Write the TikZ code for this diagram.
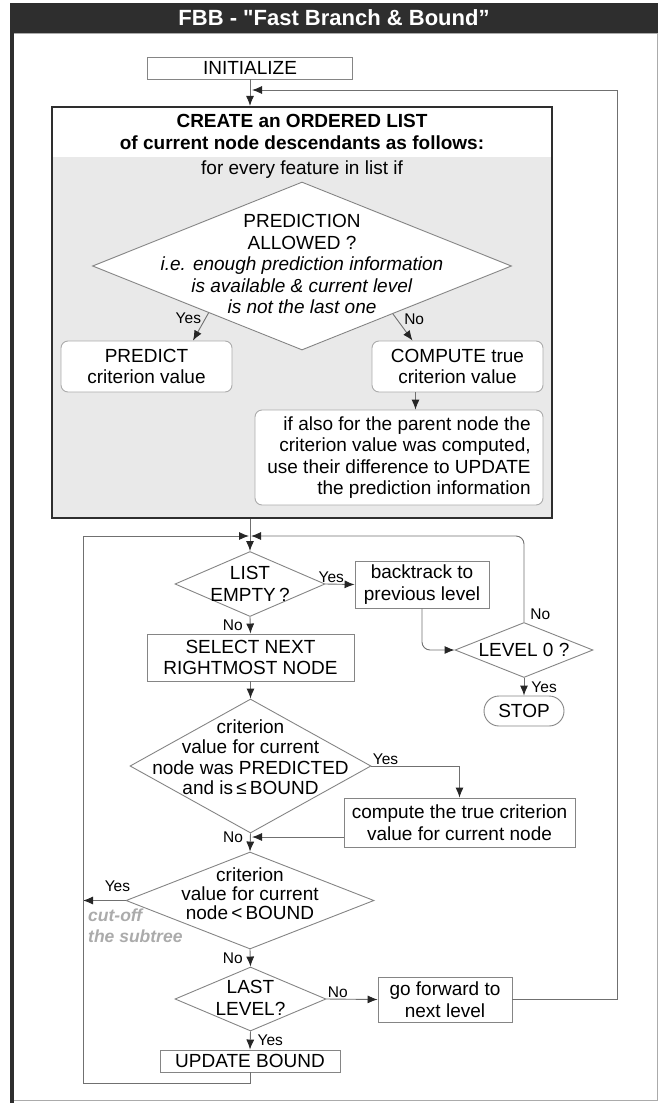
\documentclass[tikz,border=0pt]{standalone}
\usepackage{fontspec}
\setmainfont{Liberation Sans}
\newfontfamily\titlefont{Liberation Sans}
\usetikzlibrary{shapes.geometric,arrows.meta,calc,positioning}
\definecolor{barcolor}{HTML}{2E2E2E}
\definecolor{linecolor}{HTML}{707070}
\definecolor{boxline}{HTML}{858585}
\definecolor{softline}{HTML}{ABABAB}
\definecolor{panelfill}{HTML}{E9E9E9}
\definecolor{notecolor}{HTML}{ABABAB}
\definecolor{tipcolor}{HTML}{262626}
\newcommand{\bodyfont}{\fontsize{19}{21.5}\selectfont}
\newcommand{\labelfont}{\fontsize{15.5}{17}\selectfont}
\begin{document}
\begin{tikzpicture}[x=1pt, y=-1pt,
    box/.style={draw=boxline, fill=white, line width=0.9pt, inner sep=2pt,
      align=center, font=\bodyfont},
    soft/.style={box, draw=softline, rounded corners=7pt},
    decision/.style={diamond, draw=boxline, fill=white, line width=0.9pt,
      inner sep=0pt},
    txt/.style={align=center, font=\bodyfont, inner sep=0pt},
    lbl/.style={font=\labelfont, inner sep=1pt},
    flow/.style={draw=linecolor, line width=0.9pt,
      -{Latex[length=10pt, width=8pt, color=tipcolor]}},
    wire/.style={draw=linecolor, line width=0.9pt}]
  \useasboundingbox (0,0) rectangle (658,1103);

  \draw[softline, line width=0.8pt] (12,33) rectangle (657,1100);
  \fill[barcolor] (10,3) rectangle (658,33);
  \fill[barcolor] (10,33) rectangle (14,1103);
  \node[font=\titlefont\fontsize{22}{24}\selectfont\bfseries, text=white]
  (title) at (334,18) {FBB - "Fast Branch \& Bound”};

  \node[box, minimum width=205pt, minimum height=22pt] (init) at (250,68)
  {INITIALIZE}; \coordinate (backin) at (250,90); \coordinate (railtop) at
  (617,90);

  \fill[panelfill] (52,157) rectangle (552,518);
  \node[draw=barcolor, line width=2.2pt, minimum width=500pt, minimum
  height=411pt] (create) at (302,312.5) {};
  \node[txt, font=\bodyfont\bfseries] (createhead) at (302,132) {CREATE an
    ORDERED LIST\\of current node descendants as follows:};
  \draw[flow] (init) -- (init |- create.north);

  \begin{scope}[every node/.style={txt}]
    \node (forevery) at (302,170) {for every feature in list if};
  \end{scope}
  \node[decision, minimum width=419pt, minimum height=168pt] (pred) at
  (302,266) {};
  \node[txt] (predtext) at (302,264) {PREDICTION\\ALLOWED ?\\\textit{i.e.
      enough prediction information}\\\textit{is available \& current
      level}\\\textit{is not the last one}};
  \node[soft, minimum width=171pt, minimum height=51pt] (predict) at
  (146.5,366.5) {PREDICT\\criterion value}; \node[soft, minimum width=171pt,
  minimum height=51pt] (computetrue) at (457.5,366.5) {COMPUTE
    true\\criterion value};
  \node[soft, minimum width=288pt, minimum height=95pt, align=right]
  (parentupd) at (399,457.5) {if also for the parent node the\\criterion
    value was computed,\\use their difference to UPDATE\\the prediction
    information};

  \draw[flow] ($(pred.west)!0.555!(pred.south)$) to node[lbl, left=3pt,
  pos=0.2] {Yes} ([xshift=46.5pt]predict.north); \draw[flow]
  ($(pred.east)!0.567!(pred.south)$) to node[lbl, right=6pt, pos=0.2] {No}
  ([xshift=-45pt]computetrue.north); \draw[flow] ([xshift=-42pt]computetrue.south)
  -- ([xshift=-42pt]computetrue.south |- parentupd.north);

  \coordinate (merge) at (250,536); \coordinate (leftrail) at (83,536);
  \node[decision, minimum width=150pt, minimum height=65pt] (listempty) at
  (250,584) {}; \node[txt] (listtext) at (250,584) {LIST\\EMPTY\,?};
  \node[box, minimum width=134pt, minimum height=47pt] (backtrack) at
  (422,584.5) {backtrack to\\previous level};
  \node[decision, minimum width=138pt, minimum height=55pt] (levelzero) at
  (524,650) {}; \node[txt] (leveltext) at (524,650) {LEVEL 0 ?};
  \node[box, rounded corners=15pt, minimum width=80pt, minimum height=30pt]
  (stop) at (524,711) {STOP};
  \node[box, minimum width=207pt, minimum height=47pt] (select) at
  (250.5,657.5) {SELECT NEXT\\RIGHTMOST NODE};

  \node[decision, minimum width=241pt, minimum height=134pt] (predicted) at
  (250.5,766) {}; \node[txt, font=\fontsize{19}{20.5}\selectfont]
  (predictedtext) at (250.5,757) {criterion\\value for current\\node was
    PREDICTED\\and is\,≤\,BOUND};
  \node[box, minimum width=231pt, minimum height=49pt] (truecrit) at
  (459.5,822.5) {compute the true criterion\\value for current node};
  \coordinate (joinb) at (250,837);

  \node[decision, minimum width=248pt, minimum height=97pt] (cutoff) at
  (250,900.5) {}; \node[txt, font=\fontsize{19}{19}\selectfont] (cutofftext)
  at (250,894) {criterion\\value for current\\node\,<\,BOUND};
  \node[font=\fontsize{17.5}{20.5}\selectfont\bfseries\itshape,
  text=notecolor, align=left, inner sep=0pt, anchor=north west] (cutnote) at
  (88,909) {cut-off\\the subtree};

  \node[decision, minimum width=151pt, minimum height=64pt] (lastlevel) at
  (250.5,999) {}; \node[txt] (lasttext) at (250.5,998) {LAST\\LEVEL?};
  \node[box, minimum width=134pt, minimum height=45pt] (forward) at
  (445,999.5) {go forward to\\next level};
  \node[box, minimum width=180pt, minimum height=22pt] (update) at (250,1061)
  {UPDATE BOUND};

  \draw[flow] (create.south -| merge) -- (listempty.north); \draw[flow]
  (listempty.east) to node[lbl, above, pos=0.2] {Yes} (backtrack.west);
  \draw[flow, rounded corners=8pt] (backtrack.south) |- (levelzero.west);
  \draw[flow, rounded corners=8pt] (levelzero.north) node[lbl, above
  right=1pt and 5pt] {No} |- ([xshift=1pt]merge); \draw[flow]
  (levelzero.south) to node[lbl, right=6pt] {Yes} (stop.north);
  \draw[flow] (listempty.south) to node[lbl, left=6pt] {No} (select.north);
  \draw[flow] (select.south) -- (predicted.north); \draw[flow]
  (predicted.east) node[lbl, above right] {Yes} -| (truecrit.north);
  \draw[flow] (truecrit.west |- joinb) -- ([xshift=2pt]joinb); \draw[flow]
  (predicted.south) to node[lbl, left=6pt, pos=0.2] {No} (cutoff.north);
  \draw[flow] (cutoff.west) node[lbl, above left=7pt and -6pt] {Yes} --
  (leftrail |- cutoff.west); \draw[flow] (cutoff.south) to node[lbl,
  left=6pt] {No} (lastlevel.north); \draw[flow] (lastlevel.east) node[lbl,
  above right] {No} -- (forward.west); \draw[flow] (forward.east) -|
  (railtop) -- ([xshift=2pt]backin); \draw[flow] (lastlevel.south) to
  node[lbl, right=6pt] {Yes} (update.north); \draw[flow] (update.south) --
  ++(0,11) -| (leftrail) -- ([xshift=-1pt]merge);
\end{tikzpicture}
\end{document}
